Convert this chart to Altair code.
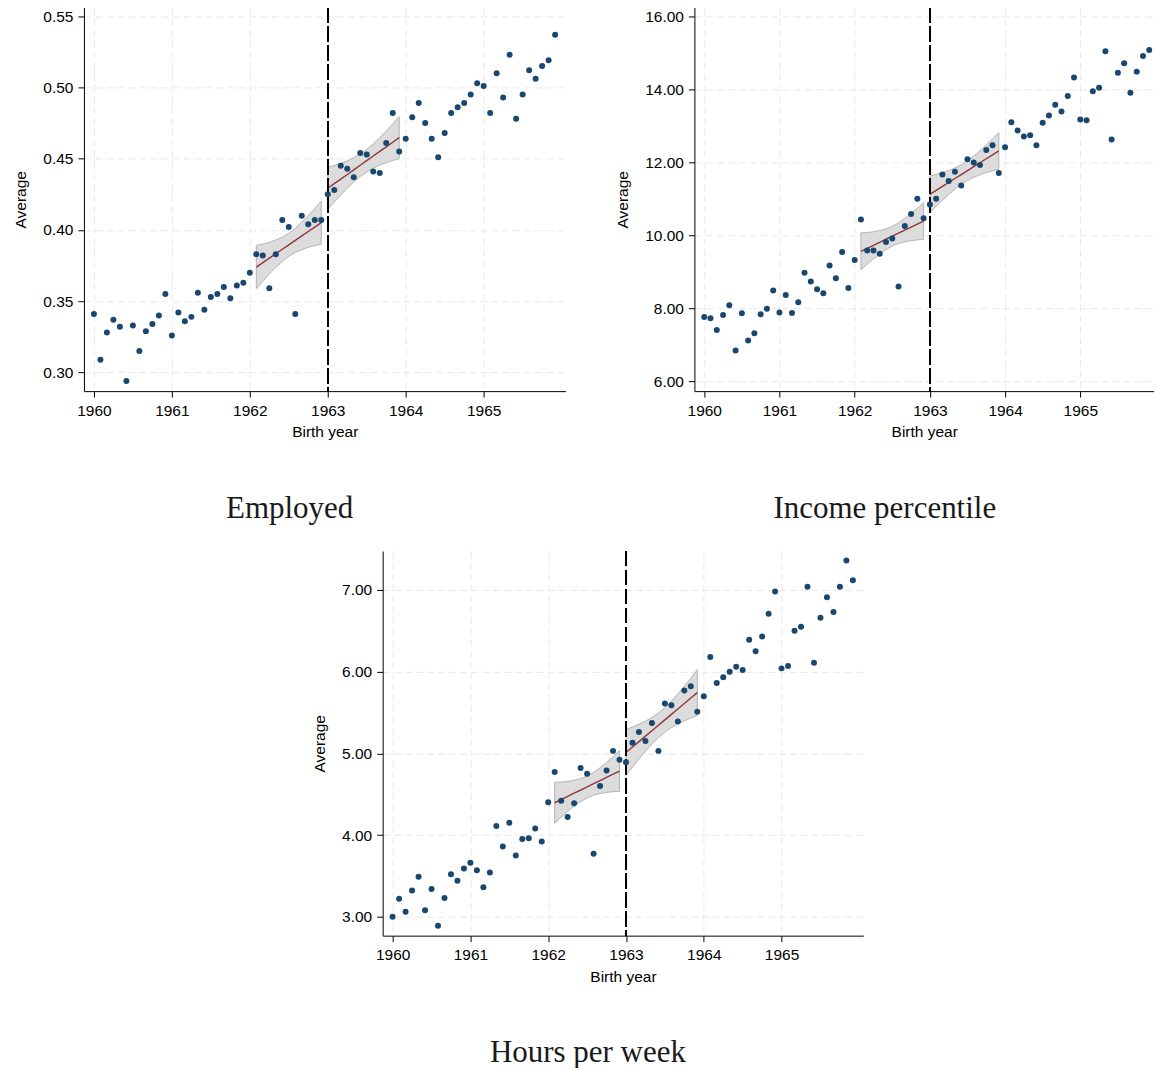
import altair as alt
import numpy as np
import pandas as pd

# ---- data (monthly cohorts, Jan 1960 .. Dec 1965) ----
months = list(range(72))
birth_year = [1960 + m / 12 for m in months]

employed = [0.341, 0.309, 0.328, 0.337, 0.332, 0.294, 0.333, 0.315, 0.329, 0.334, 0.340, 0.355,
            0.326, 0.342, 0.336, 0.339, 0.356, 0.344, 0.353, 0.355, 0.360, 0.352, 0.361, 0.363,
            0.370, 0.383, 0.382, 0.359, 0.383, 0.407, 0.402, 0.341, 0.410, 0.404, 0.407, 0.407,
            0.425, 0.428, 0.445, 0.443, 0.437, 0.454, 0.453, 0.441, 0.440, 0.461, 0.482, 0.455,
            0.464, 0.479, 0.489, 0.475, 0.464, 0.451, 0.468, 0.482, 0.486, 0.489, 0.495, 0.503,
            0.501, 0.482, 0.510, 0.493, 0.523, 0.478, 0.495, 0.512, 0.506, 0.515, 0.519, 0.537]

income = [7.76, 7.72, 7.40, 7.81, 8.08, 6.84, 7.86, 7.11, 7.31, 7.83, 7.98, 8.48,
          7.88, 8.36, 7.87, 8.16, 8.97, 8.73, 8.52, 8.41, 9.17, 8.82, 9.54, 8.55,
          9.32, 10.43, 9.58, 9.58, 9.49, 9.81, 9.91, 8.59, 10.25, 10.58, 11.00, 10.46,
          10.84, 11.00, 11.66, 11.48, 11.74, 11.36, 12.08, 11.99, 11.92, 12.33, 12.46, 11.70,
          12.41, 13.09, 12.87, 12.70, 12.74, 12.46, 13.08, 13.28, 13.57, 13.39, 13.81, 14.32,
          13.17, 13.15, 13.94, 14.04, 15.04, 12.62, 14.45, 14.71, 13.90, 14.48, 14.91, 15.07]

hours = [3.00, 3.22, 3.06, 3.32, 3.49, 3.08, 3.34, 2.89, 3.23, 3.52, 3.44, 3.59,
         3.66, 3.57, 3.36, 3.54, 4.11, 3.86, 4.15, 3.75, 3.95, 3.96, 4.08, 3.92,
         4.40, 4.77, 4.42, 4.22, 4.39, 4.82, 4.75, 3.77, 4.60, 4.79, 5.03, 4.92,
         4.89, 5.13, 5.26, 5.15, 5.37, 5.03, 5.61, 5.59, 5.39, 5.77, 5.82, 5.51,
         5.70, 6.18, 5.86, 5.93, 6.00, 6.06, 6.02, 6.39, 6.25, 6.43, 6.71, 6.98,
         6.04, 6.07, 6.50, 6.55, 7.04, 6.11, 6.66, 6.91, 6.73, 7.04, 7.36, 7.12]

# confidence-band half widths (Feb-Dec 1962, Jan-Dec 1963)
emp_ci_pre = [0.0152, 0.0130, 0.0111, 0.0096, 0.0085, 0.0081, 0.0085, 0.0096, 0.0111, 0.0130, 0.0152]
emp_ci_post = [0.0147, 0.0128, 0.0111, 0.0096, 0.0085, 0.0079, 0.0079, 0.0085, 0.0096, 0.0111, 0.0128, 0.0147]
inc_ci_pre = [0.505, 0.433, 0.370, 0.320, 0.283, 0.270, 0.283, 0.320, 0.370, 0.433, 0.505]
inc_ci_post = [0.500, 0.437, 0.379, 0.328, 0.290, 0.269, 0.269, 0.290, 0.328, 0.379, 0.437, 0.500]
hrs_ci_pre = [0.250, 0.214, 0.183, 0.158, 0.140, 0.134, 0.140, 0.158, 0.183, 0.214, 0.250]
hrs_ci_post = [0.280, 0.245, 0.212, 0.184, 0.162, 0.150, 0.150, 0.162, 0.184, 0.212, 0.245, 0.280]

year_ticks = [1960, 1961, 1962, 1963, 1964, 1965]
cutoff = 1963

POINT = "#1a476f"
FIT = "#90353b"
LABEL_FONT = "Liberation Sans"
TITLE_FONT = "Liberation Serif"


def panel(values, ci_pre, ci_post, xdom, ydom, yticks, title, w, h, title_offset):
    pts = pd.DataFrame({"x": birth_year, "y": values})
    rows = []
    for seg, idx, hw in (("pre", range(25, 36), ci_pre), ("post", range(36, 48), ci_post)):
        xs = np.array([birth_year[i] for i in idx])
        ys = np.array([values[i] for i in idx])
        b, a = np.polyfit(xs, ys, 1)
        for xx, hh in zip(xs, hw):
            f = a + b * xx
            rows.append({"x": xx, "fit": f, "lo": f - hh, "hi": f + hh, "seg": seg})
    fit = pd.DataFrame(rows)

    xscale = alt.Scale(domain=xdom, nice=False, zero=False)
    yscale = alt.Scale(domain=ydom, nice=False, zero=False)
    xaxis = alt.Axis(values=year_ticks, format="d", title="Birth year")
    yaxis = alt.Axis(values=yticks, format=".2f", title="Average")

    band = alt.Chart(fit).mark_area(fill="#dcdcdc", stroke="#b4b4b4", strokeWidth=1).encode(
        x=alt.X("x:Q", scale=xscale, axis=xaxis),
        y=alt.Y("lo:Q", scale=yscale, axis=yaxis),
        y2="hi:Q",
        detail="seg:N",
    )
    line = alt.Chart(fit).mark_line(color=FIT, strokeWidth=1.4).encode(
        x=alt.X("x:Q", scale=xscale, axis=xaxis),
        y=alt.Y("fit:Q", scale=yscale, axis=yaxis),
        detail="seg:N",
    )
    rule = alt.Chart(pts).mark_rule(color="black", strokeWidth=1.3, strokeDash=[15, 4]).encode(
        x=alt.datum(cutoff)
    )
    dots = alt.Chart(pts).mark_circle(size=36, color=POINT, opacity=1).encode(
        x=alt.X("x:Q", scale=xscale, axis=xaxis),
        y=alt.Y("y:Q", scale=yscale, axis=yaxis),
    )
    return alt.layer(band, line, rule, dots).properties(
        width=w,
        height=h,
        title=alt.TitleParams(
            title, orient="bottom", anchor="middle", frame="bounds",
            font=TITLE_FONT, fontSize=31, fontWeight="normal", color="#1a1a1a",
            offset=title_offset,
        ),
    )


p1 = panel(employed, emp_ci_pre, emp_ci_post, [1959.872, 1966.05], [0.2869, 0.5561],
           [0.30, 0.35, 0.40, 0.45, 0.50, 0.55], "Employed", 482, 384, 54)
p2 = panel(income, inc_ci_pre, inc_ci_post, [1959.869, 1965.98], [5.726, 16.238],
           [6, 8, 10, 12, 14, 16], "Income percentile", 460, 384, 54)
p3 = panel(hours, hrs_ci_pre, hrs_ci_post, [1959.872, 1966.05], [2.768, 7.477],
           [3, 4, 5, 6, 7], "Hours per week", 481, 385, 53)

# invisible spacer that places the bottom panel
spacer = alt.Chart(pd.DataFrame({"a": [0]})).mark_point(opacity=0).encode(
    x=alt.X("a:Q", axis=None), y=alt.Y("a:Q", axis=None)
).properties(width=228, height=1)

top = alt.hconcat(p1, p2, spacing=50)
bottom = alt.hconcat(spacer, p3, spacing=0)
chart = alt.vconcat(top, bottom, spacing=24).properties(
    padding={"left": 5, "top": -2, "right": 0, "bottom": 0}
).configure_view(stroke=None).configure_axis(
    labelFont=LABEL_FONT, labelFontSize=15.5, labelColor="black",
    titleFont=LABEL_FONT, titleFontSize=15.5, titleColor="black", titleFontWeight="normal",
    domainColor="black", domainWidth=1, tickColor="black", tickSize=6, tickWidth=1,
    grid=True, gridColor="#e8e8e8", gridDash=[7, 4], gridWidth=1,
).configure_axisX(titlePadding=6, labelPadding=6).configure_axisY(titlePadding=14, labelPadding=5)

chart.save("out.html", embed_options={"renderer": "svg", "actions": False})
